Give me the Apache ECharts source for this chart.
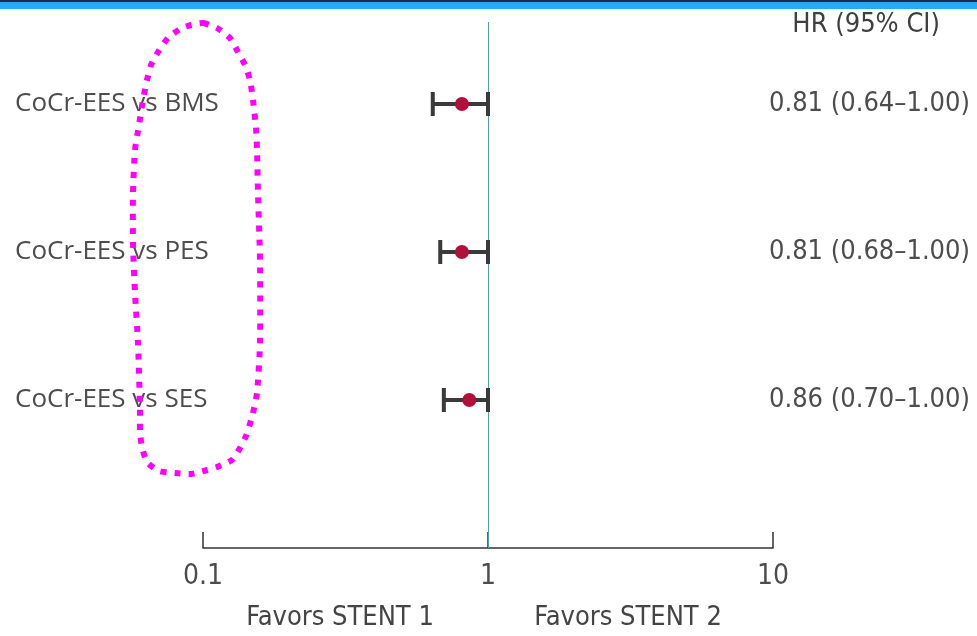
<!DOCTYPE html>
<html>
<head>
<meta charset="utf-8">
<script src="https://cdn.jsdelivr.net/npm/echarts@6/dist/echarts.min.js"></script>
<style>
  html, body { margin: 0; padding: 0; background: #fff; }
  #chart { width: 977px; height: 636px; }
</style>
</head>
<body>
<div id="chart"></div>
<script>
// Comparisons, top to bottom
const comparisons = ['CoCr-EES vs BMS', 'CoCr-EES vs PES', 'CoCr-EES vs SES'];
const hazardRatio = [0.81, 0.81, 0.86];
const ciLower = [0.64, 0.68, 0.70];
const ciUpper = [1.00, 1.00, 1.00];
const favorsLeft = 'Favors STENT 1';
const favorsRight = 'Favors STENT 2';
const ciHeader = 'HR (95% CI)';

// row position on the vertical value axis: first comparison at the top
const rowPos = comparisons.map((_, i) => comparisons.length - i);
const ciText = hazardRatio.map((h, i) =>
  h.toFixed(2) + ' (' + ciLower[i].toFixed(2) + '\u2013' + ciUpper[i].toFixed(2) + ')');

const labelByRow = {};
const ciByRow = {};
rowPos.forEach((p, i) => { labelByRow[p] = comparisons[i]; ciByRow[p] = ciText[i]; });

const narrow = "'Liberation Sans Narrow', 'DejaVu Sans Condensed', sans-serif";
const textGrey = '#4d4d4d';

const chart = echarts.init(document.getElementById('chart'), null, { renderer: 'canvas' });

// dotted outline around the comparison labels
const loopPts = [
  [203,23],[217,28],[230,38],[238,52],[245,65],[250,80],[253,100],[256,128],[257,150],
  [258,193],[260,260],[260,343],[257,393],[252,417],[246,436],[240,448],[232,460],
  [217,467],[207,470],[191,474],[175,473],[159,471],[147,462],[142,447],[140,432],
  [140,410],[138,343],[135,293],[133,243],[133,193],[135,150],[139,125],[143,100],
  [147,80],[151,65],[158,52],[168,38],[180,29],[191,25]
];

chart.setOption({
  animation: false,
  backgroundColor: '#ffffff',
  grid: { left: 203, right: 204, top: 22, bottom: 88, containLabel: false },
  xAxis: {
    type: 'log',
    logBase: 10,
    min: 0.1,
    max: 10,
    axisLine: { show: true, lineStyle: { color: '#333', width: 1.5 } },
    axisTick: { show: true, inside: true, length: 16, lineStyle: { color: '#333', width: 1.5 } },
    axisLabel: {
      margin: 15,
      fontSize: 28,
      fontFamily: narrow,
      color: textGrey,
      formatter: v => String(+v.toPrecision(2))
    },
    splitLine: { show: false },
    minorTick: { show: false }
  },
  yAxis: [
    {
      type: 'value',
      min: 0,
      max: 526 / 148,
      position: 'left',
      axisLine: { show: false },
      axisTick: { show: false },
      splitLine: { show: false },
      axisLabel: {
        customValues: rowPos,
        align: 'left',
        margin: 188,
        fontSize: 26,
        fontFamily: "'Open Sans', sans-serif",
        color: textGrey,
        formatter: v => labelByRow[v] || ''
      }
    },
    {
      type: 'value',
      min: 0,
      max: 526 / 148,
      position: 'right',
      axisLine: { show: false },
      axisTick: { show: false },
      splitLine: { show: false },
      axisLabel: {
        customValues: rowPos,
        align: 'right',
        margin: 197,
        fontSize: 27,
        fontFamily: narrow,
        color: textGrey,
        formatter: v => ciByRow[v] || ''
      }
    }
  ],
  title: [
    {
      text: ciHeader,
      right: 37,
      top: 11,
      padding: 0,
      textStyle: { fontSize: 27, fontWeight: 500, fontFamily: narrow, color: '#3f3f3f' }
    }
  ],
  graphic: [
    {
      type: 'rect',
      x: 0, y: 0,
      shape: { width: 977, height: 2 },
      style: { fill: '#1f2d44' },
      z: 100
    },
    {
      type: 'rect',
      x: 0, y: 2,
      shape: { width: 977, height: 7 },
      style: { fill: '#2aa8f2' },
      z: 100
    },
    {
      type: 'text',
      x: 340, y: 618,
      style: { text: favorsLeft, font: "500 27px " + narrow, fill: '#444',
               textAlign: 'center', textVerticalAlign: 'middle' }
    },
    {
      type: 'text',
      x: 628, y: 618,
      style: { text: favorsRight, font: "500 27px " + narrow, fill: '#444',
               textAlign: 'center', textVerticalAlign: 'middle' }
    },
    {
      type: 'polygon',
      shape: { points: loopPts, smooth: 0.2 },
      style: { fill: 'none', stroke: '#ff00ff', lineWidth: 6, lineDash: [6, 8] },
      z: 50
    }
  ],
  series: [
    {
      type: 'custom',
      name: 'CI',
      renderItem: (params, api) => {
        const y = api.value(0);
        const lo = api.coord([api.value(1), y]);
        const hi = api.coord([api.value(2), y]);
        const cap = 12;
        const style = { stroke: '#3a3a3a', lineWidth: 4 };
        return {
          type: 'group',
          children: [
            { type: 'line', shape: { x1: lo[0], y1: lo[1], x2: hi[0], y2: hi[1] }, style },
            { type: 'line', shape: { x1: lo[0], y1: lo[1] - cap, x2: lo[0], y2: lo[1] + cap }, style },
            { type: 'line', shape: { x1: hi[0], y1: hi[1] - cap, x2: hi[0], y2: hi[1] + cap }, style }
          ]
        };
      },
      encode: { x: [1, 2], y: 0 },
      data: rowPos.map((p, i) => [p, ciLower[i], ciUpper[i]]),
      z: 3
    },
    {
      type: 'scatter',
      name: 'HR',
      symbol: 'circle',
      symbolSize: 14,
      itemStyle: { color: '#b0103a', opacity: 1 },
      data: rowPos.map((p, i) => [hazardRatio[i], p]),
      z: 5,
      markLine: {
        silent: true,
        symbol: 'none',
        label: { show: false },
        lineStyle: { color: '#4c9fb8', width: 1, type: 'solid' },
        data: [{ xAxis: 1 }],
        z: 1
      }
    }
  ]
});
</script>
</body>
</html>
